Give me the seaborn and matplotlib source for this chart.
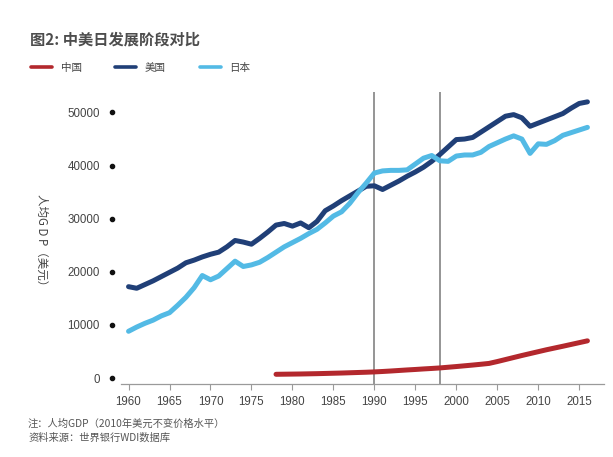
import numpy as np
import pandas as pd
import seaborn as sns
import matplotlib
matplotlib.use('Agg')
from matplotlib import pyplot as plt
from matplotlib import transforms

"""
# Data: GDP per capita (2010 USD), read off the reference chart
"""
YEARS_LONG = list(range(1960, 2017))
US = [17200, 16900, 17600, 18300, 19100, 19900, 20700, 21700, 22200, 22800,
      23300, 23700, 24700, 25900, 25600, 25200, 26300, 27500, 28800, 29100,
      28600, 29200, 28300, 29500, 31500, 32400, 33400, 34300, 35200, 36100,
      36200, 35500, 36300, 37100, 38000, 38800, 39700, 40800, 42100, 43500,
      44900, 45000, 45300, 46300, 47300, 48300, 49300, 49600, 49000, 47400,
      48000, 48600, 49200, 49800, 50800, 51700, 52000]
JAPAN = [8800, 9600, 10300, 10900, 11700, 12300, 13700, 15200, 17000, 19300,
         18500, 19200, 20600, 22000, 21000, 21300, 21800, 22700, 23700, 24700,
         25500, 26300, 27200, 28000, 29200, 30500, 31300, 32900, 34900, 36700,
         38600, 39000, 39100, 39100, 39200, 40300, 41400, 41900, 40900, 40800,
         41800, 42000, 42000, 42500, 43600, 44300, 45000, 45600, 45000, 42300,
         44100, 44000, 44700, 45700, 46200, 46700, 47200]
YEARS_CHINA = list(range(1978, 2017))
CHINA = [700, 720, 740, 760, 790, 820, 860, 900, 940, 990,
         1040, 1090, 1150, 1230, 1320, 1420, 1520, 1610, 1710, 1800,
         1900, 2030, 2160, 2300, 2440, 2590, 2750, 3100, 3480, 3860,
         4240, 4600, 4960, 5320, 5650, 5980, 6320, 6660, 7000]
COUNTRIES = ['中国', '美国', '日本']
COLORS = ['#b3282d', '#203f77', '#53bae5']
Y_TICKS = [0, 10000, 20000, 30000, 40000, 50000]
X_TICKS = list(range(1960, 2016, 5))
MARK_YEARS = [1990, 1998]

df = pd.concat([
    pd.DataFrame({'year': YEARS_CHINA, 'gdp': CHINA, 'country': '中国'}),
    pd.DataFrame({'year': YEARS_LONG, 'gdp': US, 'country': '美国'}),
    pd.DataFrame({'year': YEARS_LONG, 'gdp': JAPAN, 'country': '日本'}),
])

sns.set_style('white')
plt.rcParams['font.family'] = ['Noto Sans CJK SC', 'DejaVu Sans']

fig = plt.figure(figsize=(6.13, 4.57), dpi=100)
ax = fig.add_axes([0.197, 0.1597, 0.788, 0.639])

for yr in MARK_YEARS:
    ax.axvline(yr, color='#8c8c8c', lw=1.3, zorder=1)

sns.lineplot(data=df, x='year', y='gdp', hue='country', hue_order=COUNTRIES,
             palette=dict(zip(COUNTRIES, COLORS)), estimator=None,
             linewidth=3.6, solid_capstyle='round', ax=ax, zorder=3)
handles, labels = ax.get_legend_handles_labels()
ax.get_legend().remove()

ax.set_xlim(1959.05, 2018.0)
ax.set_ylim(-1130, 53860)
ax.set_xlabel('')
ax.set_ylabel('')
sns.despine(ax=ax, left=True)
ax.spines['bottom'].set_color('#9a9a9a')
ax.spines['bottom'].set_linewidth(0.9)

ax.set_xticks(X_TICKS)
ax.set_xticklabels([str(x) for x in X_TICKS], family='Liberation Sans',
                   fontsize=8.3, color='#444444')
ax.tick_params(axis='x', bottom=True, length=4, width=0.8, color='#9a9a9a',
               pad=4.5)
ax.set_yticks(Y_TICKS)
ax.set_yticklabels([str(y) for y in Y_TICKS], family='Liberation Sans',
                   fontsize=8.3, color='#444444')
ax.tick_params(axis='y', left=False, length=0, pad=15)

# dots in place of y tick marks
trans = transforms.blended_transform_factory(ax.transAxes, ax.transData)
ax.scatter([-0.018] * len(Y_TICKS), Y_TICKS, s=9, color='#111111',
           transform=trans, clip_on=False, zorder=4)

leg = fig.legend(handles, labels, loc='center left',
                 bbox_to_anchor=(0.035, 1 - 68 / 457), ncol=3, frameon=False,
                 fontsize=7.6, handlelength=2.0, handletextpad=0.8,
                 columnspacing=3.2, labelcolor='#444444')
for line in leg.get_lines():
    line.set_linewidth(2.6)

fig.text(30 / 613, 1 - 40 / 457, '图2: 中美日发展阶段对比', fontsize=11,
         fontweight='bold', color='#4d4d4d', va='center', ha='left')
fig.text(42 / 613, 1 - 243 / 457, '人均G D P（美元）', rotation=-90,
         fontsize=8.3, color='#444444', va='center', ha='center')
fig.text(28 / 613, 1 - 424 / 457, '注：人均GDP（2010年美元不变价格水平）',
         fontsize=7.4, color='#555555', va='center', ha='left')
fig.text(28 / 613, 1 - 438 / 457, '资料来源：世界银行WDI数据库',
         fontsize=7.4, color='#555555', va='center', ha='left')

fig.savefig('out.png', dpi=100)
